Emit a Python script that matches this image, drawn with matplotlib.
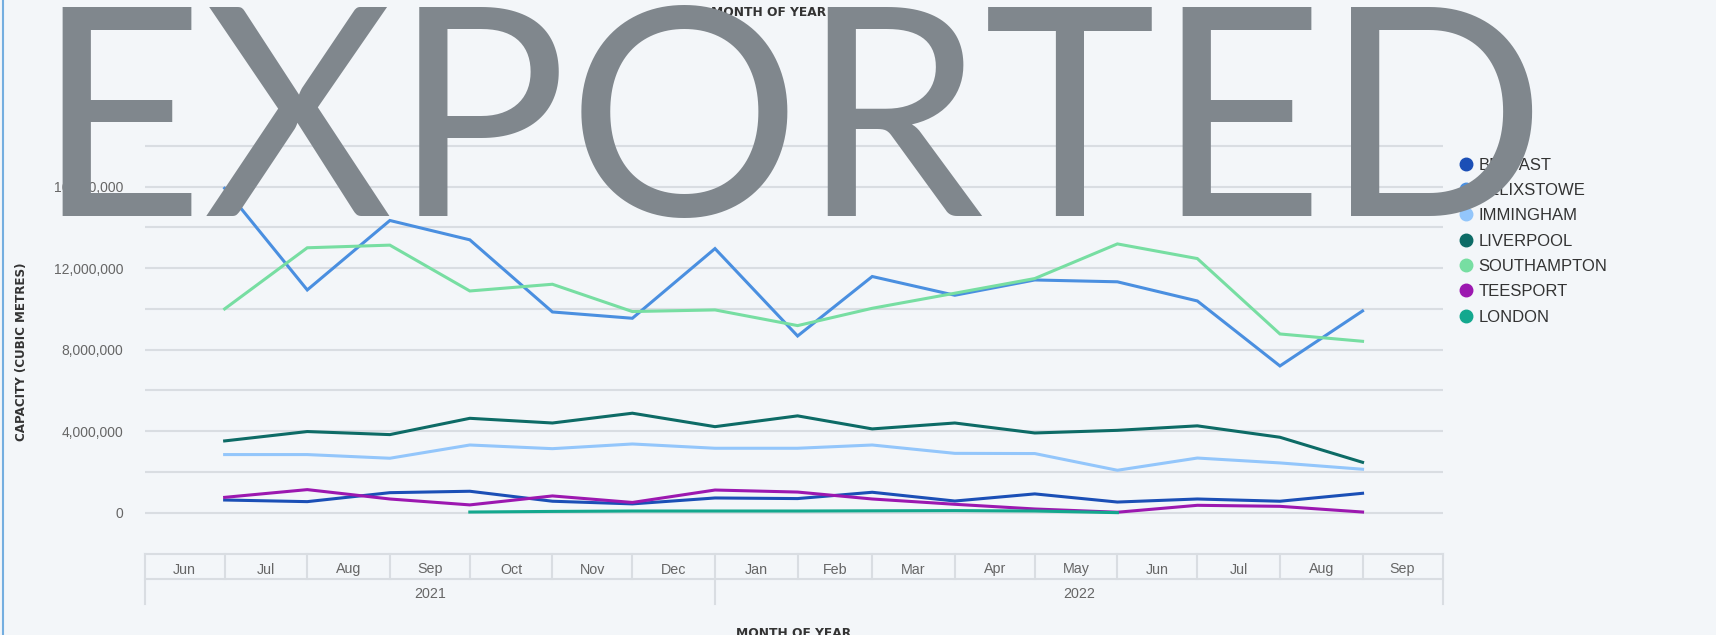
import numpy as np
import pandas as pd
import matplotlib
matplotlib.use("Agg")
import matplotlib.pyplot as plt
import matplotlib.dates as mdates
import matplotlib.transforms as mtransforms
from matplotlib.lines import Line2D

plt.rcParams['font.family'] = ['Liberation Sans', 'DejaVu Sans']

# monthly capacity (cubic metres), Jul 2021 -> Sep 2022
months = pd.date_range('2021-07-01', '2022-09-01', freq='MS')

belfast     = [0.62, 0.54, 0.98, 1.05, 0.56, 0.43, 0.72, 0.69, 1.00, 0.57, 0.92, 0.52, 0.67, 0.56, 0.95]
felixstowe  = [15.92, 10.93, 14.34, 13.39, 9.85, 9.54, 12.96, 8.67, 11.59, 10.67, 11.42, 11.33, 10.39, 7.20, 9.90]
immingham   = [2.85, 2.85, 2.67, 3.32, 3.14, 3.37, 3.16, 3.16, 3.32, 2.91, 2.90, 2.08, 2.68, 2.44, 2.13]
liverpool   = [3.52, 3.98, 3.83, 4.63, 4.40, 4.88, 4.22, 4.75, 4.11, 4.40, 3.91, 4.04, 4.26, 3.70, 2.47]
southampton = [10.00, 13.00, 13.13, 10.88, 11.21, 9.87, 9.95, 9.18, 10.03, 10.77, 11.49, 13.19, 12.47, 8.77, 8.41]
teesport    = [0.75, 1.13, 0.67, 0.38, 0.82, 0.50, 1.11, 1.01, 0.67, 0.41, 0.18, 0.02, 0.36, 0.31, 0.03]
london      = [np.nan, np.nan, np.nan, 0.03, 0.06, 0.08, 0.08, 0.08, 0.09, 0.10, 0.08, 0.00, np.nan, np.nan, np.nan]

ports = ['BELFAST', 'FELIXSTOWE', 'IMMINGHAM', 'LIVERPOOL', 'SOUTHAMPTON', 'TEESPORT', 'LONDON']
series = [belfast, felixstowe, immingham, liverpool, southampton, teesport, london]
colors = ['#1b4fb6', '#4a8fe0', '#93c6fb', '#0d6b66', '#77dea2', '#9c18b0', '#13a88e']

y_ticks = np.arange(0, 18e6 + 1, 2e6)
year_edges = [pd.Timestamp('2021-06-01'), pd.Timestamp('2022-01-01'), pd.Timestamp('2022-10-01')]
year_labels = ['2021', '2022']

W, H = 1716, 635
bg = '#f3f6f9'
grid_c = '#d9dde2'
txt_c = '#666666'

fig = plt.figure(figsize=(W / 100, H / 100), dpi=100, facecolor=bg)
ax = fig.add_axes([144.7 / W, (H - 554) / H, (1442.5 - 144.7) / W, (554 - 140) / H])
ax.set_facecolor(bg)

for name, vals, c in zip(ports, series, colors):
    ax.plot(months, np.array(vals) * 1e6, color=c, lw=2.2, label=name, solid_joinstyle='miter')

ax.set_xlim(year_edges[0], year_edges[-1])
ax.set_ylim(-2.03e6, 18.29e6)
ax.set_yticks(y_ticks)
ax.set_yticklabels([f"{v:,.0f}" if v % 4e6 == 0 else "" for v in y_ticks])
ax.tick_params(axis='y', length=0, pad=15.5, labelsize=10, labelcolor=txt_c)
ax.set_xticks([])
ax.grid(axis='y', color=grid_c, lw=1.5)
ax.set_axisbelow(True)
for s in ax.spines.values():
    s.set_visible(False)

# category box under the plot (months / years)
trans = mtransforms.blended_transform_factory(ax.transData, ax.transAxes)
def ay(py):
    return (554 - py) / 414.0

month_edges = pd.date_range('2021-06-01', '2022-10-01', freq='MS')
x0, x1 = mdates.date2num(month_edges[0]), mdates.date2num(month_edges[-1])
for yy in (554, 579):
    ax.add_line(Line2D([x0, x1], [ay(yy)] * 2, transform=trans, color=grid_c, lw=1.5, clip_on=False))
for d in month_edges:
    xn = mdates.date2num(d)
    bottom = 604 if d in year_edges else 579
    ax.add_line(Line2D([xn, xn], [ay(554), ay(bottom)], transform=trans, color=grid_c, lw=1.5, clip_on=False))
for a, b in zip(month_edges[:-1], month_edges[1:]):
    mid = mdates.date2num(a) + (mdates.date2num(b) - mdates.date2num(a)) / 2
    ax.text(mid, ay(569.5), a.strftime('%b'), transform=trans, ha='center', va='center',
            fontsize=10.3, color=txt_c)
for lab, a, b in zip(year_labels, year_edges[:-1], year_edges[1:]):
    mid = (mdates.date2num(a) + mdates.date2num(b)) / 2
    ax.text(mid, ay(594.5), lab, transform=trans, ha='center', va='center', fontsize=10.3, color=txt_c)

# legend
handles = [Line2D([], [], marker='o', ls='', color=c, markersize=9) for c in colors]
ax.legend(handles, ports, loc='upper left', bbox_to_anchor=(1459 / W, (H - 157.5) / H),
          bbox_transform=fig.transFigure, frameon=False, fontsize=12, labelspacing=0.62,
          handlelength=0.8, handletextpad=0.35, borderpad=0, borderaxespad=0, labelcolor='#333333')

# titles
fig.text(862 / W, (H - 120) / H, 'Capacity', ha='center', va='center', fontsize=12, color='#444444')
fig.text(769 / W, (H - 13) / H, 'MONTH OF YEAR', ha='center', va='center', fontsize=8.8,
         fontweight='bold', family='DejaVu Sans', color='#333333')
fig.text(794 / W, (H - 627) / H, 'MONTH OF YEAR', ha='center', va='top', fontsize=8.8,
         fontweight='bold', family='DejaVu Sans', color='#333333')
fig.text(22 / W, (H - 352) / H, 'CAPACITY (CUBIC METRES)', ha='center', va='center', rotation=90,
         fontsize=8.6, fontweight='bold', family='DejaVu Sans', color='#333333')

# left border of the visual
fig.add_artist(Line2D([2.5 / W] * 2, [0, 1], transform=fig.transFigure, color='#74aee0', lw=1.5))

# export watermark
fig.text(35.5 / W, (H - 216) / H, 'EXPORTED', ha='left', va='baseline', fontsize=210,
         family=['Lato', 'DejaVu Sans'], color='#80878d', zorder=10)

fig.savefig('out.png', dpi=100, facecolor=bg)
